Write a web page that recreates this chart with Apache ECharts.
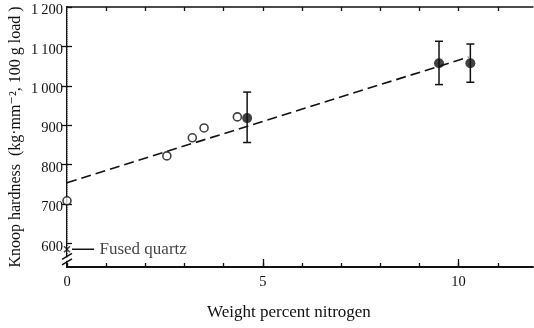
<!DOCTYPE html>
<html><head><meta charset="utf-8">
<script src="https://cdn.jsdelivr.net/npm/echarts@6/dist/echarts.min.js"></script>
<style>html,body{margin:0;padding:0;background:#fff}#c{width:534px;height:328px}</style>
</head><body><div id="c"></div>
<script>
// ---- data ----
const openX = [0, 2.55, 3.2, 3.5, 4.35];
const openY = [708, 822, 868, 893, 921];
const filledX = [4.6, 9.5, 10.3];
const filledY = [918, 1057, 1057];
const errLow = [856, 1003, 1009];
const errHigh = [984, 1113, 1106];
const fitX = [0, 10.25];
const fitY = [754, 1073];
const quartzX = [0];
const quartzY = [585];
const quartzName = 'Fused quartz';
const yTickValues = [600, 700, 800, 900, 1000, 1100, 1200];
const xTickValues = [0, 1, 2, 3, 4, 5, 6, 7, 8, 9, 10, 11];
const xMajorValues = [0, 5, 10];
const yTitle = 'Knoop hardness  (kg·mm⁻², 100 g load )';
const xTitle = 'Weight percent nitrogen';

const FONT = '"Liberation Serif", "DejaVu Serif", serif';
const INK = '#111';

const chart = echarts.init(document.getElementById('c'), null, {renderer: 'canvas'});

const yFmt = v => {
  const s = String(v);
  const t = s.length > 3 ? s.slice(0, s.length - 3) + '\u2009' + s.slice(-3) : s;
  return '{n|' + t + '}';
};

const option = {
  backgroundColor: '#fff',
  animation: false,
  grid: {left: 67, top: 7, right: 1, bottom: 61, containLabel: false, outerBoundsMode: 'none'},
  xAxis: [
    {
      type: 'value', min: 0, max: 11.9, position: 'bottom',
      axisLine: {show: true, lineStyle: {color: INK, width: 2}},
      axisTick: {show: true, inside: true, length: 4, customValues: xTickValues, lineStyle: {color: INK, width: 1.3}},
      axisLabel: {show: true, customValues: xMajorValues, margin: 8, fontFamily: FONT, fontSize: 14.5, color: INK},
      splitLine: {show: false}
    },
    {
      type: 'value', min: 0, max: 11.9, position: 'top',
      axisLine: {show: true, lineStyle: {color: INK, width: 1.5}},
      axisTick: {show: true, inside: true, length: 4, customValues: xTickValues.slice(1), lineStyle: {color: INK, width: 1.3}},
      axisLabel: {show: false},
      splitLine: {show: false}
    },
    {
      type: 'value', min: 0, max: 11.9, position: 'bottom',
      axisLine: {show: false},
      axisTick: {show: true, inside: true, length: 8, customValues: xMajorValues.slice(1), lineStyle: {color: INK, width: 1.3}},
      axisLabel: {show: false},
      splitLine: {show: false}
    }
  ],
  yAxis: [
    {
      type: 'value', min: 540, max: 1200, position: 'left',
      name: yTitle, nameLocation: 'middle', nameGap: 43, nameRotate: 90, nameMoveOverlap: false,
      nameTextStyle: {fontFamily: FONT, fontSize: 16, color: INK},
      axisLine: {show: true, lineStyle: {color: INK, width: 2}},
      axisTick: {show: true, inside: true, length: 5, customValues: yTickValues, lineStyle: {color: INK, width: 1.3}},
      axisLabel: {show: true, customValues: yTickValues, margin: 4, formatter: yFmt,
        rich: {n: {fontFamily: FONT, fontSize: 14.5, color: INK, padding: [7, 0, 0, 0]}},
        fontFamily: FONT, fontSize: 14.5, color: INK},
      splitLine: {show: false}
    },
    {
      type: 'value', min: 540, max: 1200, position: 'right',
      axisLine: {show: true, lineStyle: {color: '#bbb', width: 1, type: 'dotted'}},
      axisTick: {show: true, inside: true, length: 5, customValues: yTickValues.slice(1, 6), lineStyle: {color: INK, width: 1.3}},
      axisLabel: {show: false},
      splitLine: {show: false}
    }
  ],
  series: [
    {
      type: 'line', name: 'fit', data: fitX.map((x, i) => [x, fitY[i]]),
      showSymbol: false, symbol: 'none', silent: true,
      lineStyle: {color: INK, width: 1.6, type: [10, 5]}, z: 2
    },
    {
      type: 'custom', name: 'error',
      data: filledX.map((x, i) => [x, errLow[i], errHigh[i]]),
      renderItem: function (params, api) {
        const lo = api.coord([api.value(0), api.value(1)]);
        const hi = api.coord([api.value(0), api.value(2)]);
        const w = 4;
        const st = {stroke: INK, lineWidth: 1.5};
        return {type: 'group', children: [
          {type: 'line', shape: {x1: lo[0], y1: lo[1], x2: hi[0], y2: hi[1]}, style: st},
          {type: 'line', shape: {x1: lo[0] - w, y1: lo[1], x2: lo[0] + w, y2: lo[1]}, style: st},
          {type: 'line', shape: {x1: hi[0] - w, y1: hi[1], x2: hi[0] + w, y2: hi[1]}, style: st}
        ]};
      },
      z: 3
    },
    {
      type: 'scatter', name: 'open', data: openX.map((x, i) => [x, openY[i]]),
      symbol: 'circle', symbolSize: 8,
      itemStyle: {color: '#fff', borderColor: INK, borderWidth: 1.6}, z: 4
    },
    {
      type: 'scatter', name: 'filled', data: filledX.map((x, i) => [x, filledY[i]]),
      symbol: 'circle', symbolSize: 10,
      itemStyle: {color: INK}, z: 5
    },
    {
      type: 'scatter', name: 'quartz', data: quartzX.map((x, i) => [x, quartzY[i]]),
      symbol: 'path://M0,0L10,10M10,0L0,10', symbolSize: 6,
      itemStyle: {color: 'none', borderColor: INK, borderWidth: 1.3},
      label: {show: true, position: 'right', distance: 27, formatter: quartzName,
        fontFamily: FONT, fontSize: 17, color: INK},
      z: 6
    }
  ]
};
chart.setOption(option);

// decorations: axis break, leader line for fused quartz, x-axis title
const p0 = chart.convertToPixel({xAxisIndex: 0, yAxisIndex: 0}, [0, quartzY[0]]);
const b1 = chart.convertToPixel({xAxisIndex: 0, yAxisIndex: 0}, [0, 567]);
const b2 = chart.convertToPixel({xAxisIndex: 0, yAxisIndex: 0}, [0, 553]);
chart.setOption({graphic: [
  {type: 'text', left: 207, top: 304, style: {text: xTitle, font: '17px ' + FONT, fill: INK}},
  {type: 'line', shape: {x1: p0[0] + 5, y1: p0[1], x2: p0[0] + 27, y2: p0[1]}, style: {stroke: INK, lineWidth: 1.5}, z: 10},
  {type: 'rect', shape: {x: b1[0] - 2, y: b1[1] + 1, width: 4, height: b2[1] - b1[1] - 2}, style: {fill: '#fff'}, z: 10},
  {type: 'line', shape: {x1: b1[0] - 5, y1: b1[1] + 3, x2: b1[0] + 5, y2: b1[1] - 3}, style: {stroke: INK, lineWidth: 1.5}, z: 11},
  {type: 'line', shape: {x1: b2[0] - 5, y1: b2[1] + 3, x2: b2[0] + 5, y2: b2[1] - 3}, style: {stroke: INK, lineWidth: 1.5}, z: 11}
]});
</script>
</body></html>
